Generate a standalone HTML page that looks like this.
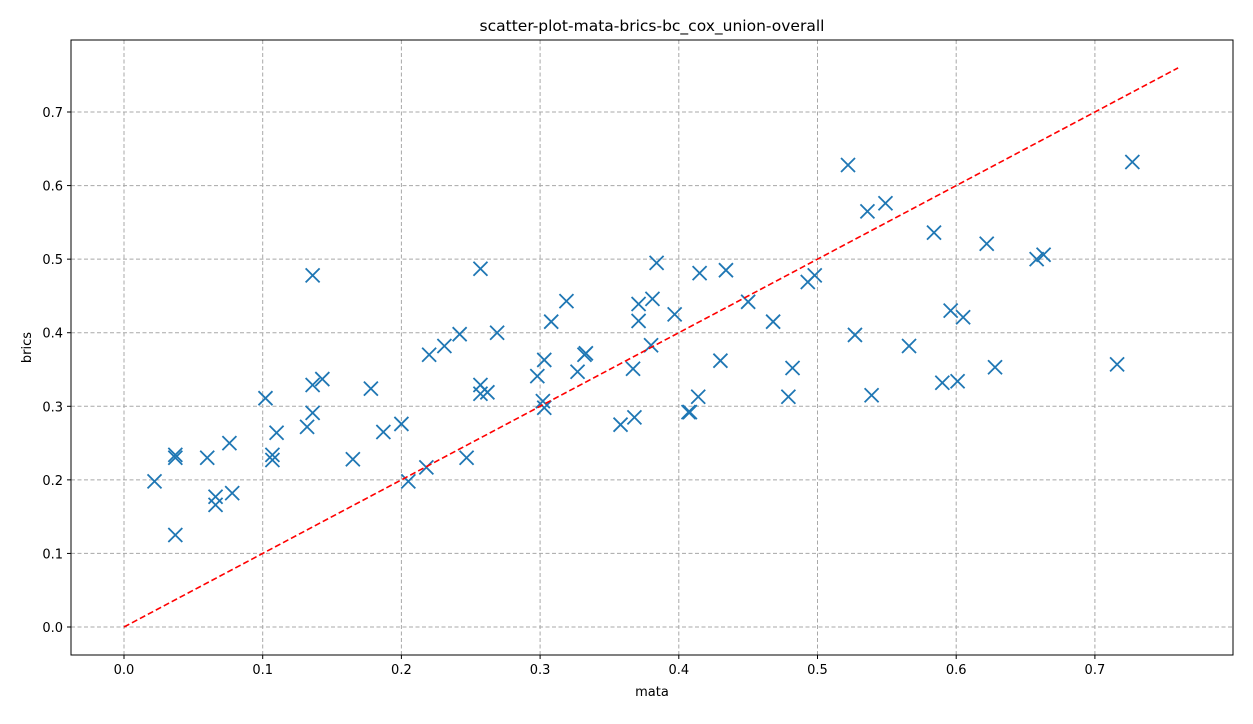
<!DOCTYPE html>
<html><head><meta charset="utf-8"><style>
body{margin:0;background:#fff;font-family:"Liberation Sans","DejaVu Sans",sans-serif}
svg text{font-family:"DejaVu Sans","Liberation Sans",sans-serif;font-size:13px;fill:#000}
</style></head><body>
<svg id="chart" width="1253" height="719" xmlns="http://www.w3.org/2000/svg"></svg>
<script>
const xs=[0.022,0.037,0.037,0.037,0.060,0.066,0.066,0.076,0.078,0.102,0.107,0.107,0.110,0.132,0.136,0.136,0.136,0.143,0.165,0.178,0.187,0.200,0.205,0.218,0.220,0.231,0.242,0.247,0.257,0.257,0.262,0.257,0.269,0.298,0.302,0.303,0.303,0.308,0.319,0.327,0.332,0.333,0.358,0.367,0.368,0.371,0.371,0.381,0.380,0.384,0.397,0.407,0.408,0.414,0.415,0.430,0.434,0.450,0.468,0.479,0.482,0.493,0.498,0.522,0.527,0.536,0.549,0.566,0.584,0.590,0.596,0.601,0.605,0.622,0.628,0.658,0.663,0.716,0.727,0.539];
const ys=[0.198,0.230,0.234,0.125,0.230,0.177,0.166,0.250,0.182,0.311,0.227,0.234,0.264,0.272,0.329,0.291,0.478,0.337,0.228,0.324,0.265,0.276,0.198,0.217,0.370,0.382,0.398,0.230,0.329,0.317,0.319,0.487,0.400,0.341,0.307,0.363,0.298,0.415,0.443,0.347,0.370,0.372,0.275,0.351,0.285,0.439,0.416,0.446,0.383,0.495,0.425,0.292,0.292,0.313,0.481,0.362,0.485,0.442,0.415,0.313,0.352,0.469,0.478,0.628,0.397,0.565,0.576,0.382,0.536,0.332,0.430,0.334,0.421,0.521,0.353,0.500,0.506,0.357,0.632,0.315];
const xTicks=[0,0.1,0.2,0.3,0.4,0.5,0.6,0.7];
const yTicks=[0,0.1,0.2,0.3,0.4,0.5,0.6,0.7];
const refLine=[0,0.76];
const L=71,R=1233,T=40,B=655;
const X=v=>124+v*1387, Y=v=>627-v*735.7;
const svg=document.getElementById('chart');
const NS='http://www.w3.org/2000/svg';
function mk(t,a,p){const e=document.createElementNS(NS,t);for(const k in a)e.setAttribute(k,a[k]);(p||svg).appendChild(e);return e;}
xTicks.forEach(v=>{const x=X(v);
 const g=mk('line',{x1:x,x2:x,y1:T,y2:B,stroke:'#a8a8a8','stroke-dasharray':'4,2.5','stroke-width':1});
 
 mk('line',{x1:x,x2:x,y1:B,y2:B+4,stroke:'#000'});
 const t=mk('text',{x:x,y:B+19,'text-anchor':'middle'});t.textContent=v.toFixed(1);
 });
yTicks.forEach(v=>{const y=Y(v);
 const g=mk('line',{x1:L,x2:R,y1:y,y2:y,stroke:'#a8a8a8','stroke-dasharray':'4,2.5','stroke-width':1});
 
 mk('line',{x1:L-4,x2:L,y1:y,y2:y,stroke:'#000'});
 const t=mk('text',{x:L-8,y:y+5,'text-anchor':'end'});t.textContent=v.toFixed(1);
 });
xs.forEach((v,i)=>{const x=X(v),y=Y(ys[i]),s=7;
 const g=mk('path',{d:`M${x-s},${y-s}L${x+s},${y+s}M${x-s},${y+s}L${x+s},${y-s}`,stroke:'#1f77b4','stroke-width':1.8,fill:'none'});
 });
const rl=mk('line',{x1:X(refLine[0]),y1:Y(refLine[0]),x2:X(refLine[1]),y2:Y(refLine[1]),stroke:'#ff0000','stroke-width':1.6,'stroke-dasharray':'6,3'});

const fr=mk('rect',{x:L,y:T,width:R-L,height:B-T,fill:'none',stroke:'#000','stroke-width':1});

const tt=mk('text',{x:(L+R)/2,y:31,'text-anchor':'middle',style:'font-size:15.5px'});tt.textContent='scatter-plot-mata-brics-bc_cox_union-overall';

const xl=mk('text',{x:(L+R)/2,y:696,'text-anchor':'middle'});xl.textContent='mata';

const yl=mk('text',{x:31,y:(T+B)/2,'text-anchor':'middle',transform:`rotate(-90 31 ${(T+B)/2})`});yl.textContent='brics';

</script>
</body></html>
